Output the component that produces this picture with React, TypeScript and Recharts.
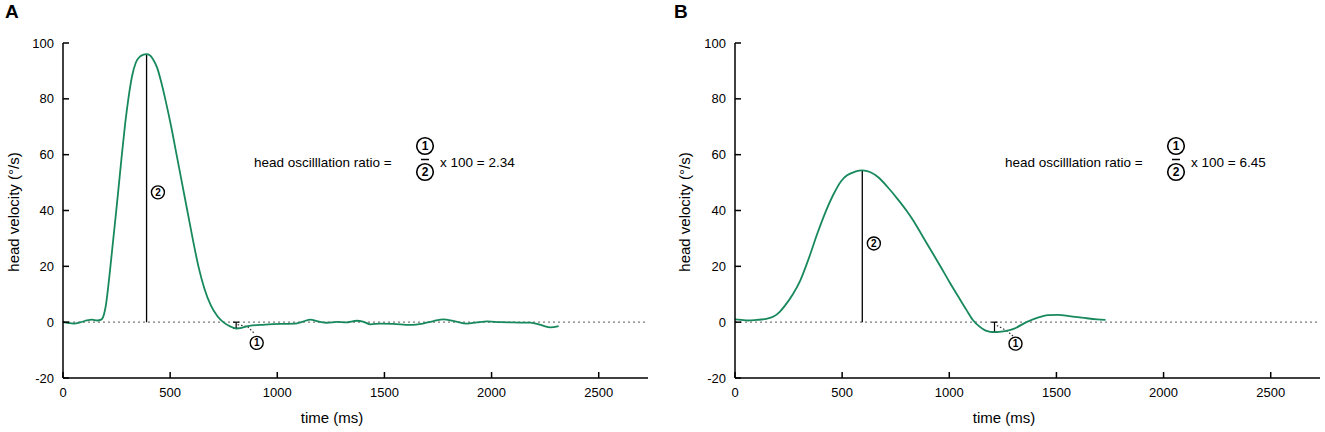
import { LineChart, Line, XAxis, YAxis, ReferenceLine, ReferenceDot } from 'recharts'

const FONT = '"Liberation Sans", Arial, Helvetica, sans-serif'
const GREEN = '#17895c'

// panel A: time (ms) and head velocity (°/s)
const timeA = [
  0, 25, 50, 80, 110, 135, 160, 180, 192, 200, 210, 220, 235, 250, 263, 276, 290, 305, 322, 340,
  360, 375, 390, 405, 420, 440, 455, 477, 505, 530, 555, 580, 605, 632, 660, 690, 720, 748, 780,
  810, 840, 870, 920, 980, 1040, 1080, 1120, 1154, 1190, 1232, 1280, 1320, 1372, 1400, 1435, 1480,
  1540, 1621, 1680, 1730, 1776, 1820, 1886, 1930, 1980, 2040, 2100, 2182, 2230, 2275, 2313,
]
const velocityA = [
  0, -0.3, -0.5, -0.1, 0.6, 0.9, 0.6, 1.0, 3, 6, 12, 19, 30, 41, 51, 61, 71, 80, 88, 93,
  95.2, 95.8, 96, 95.6, 94.2, 91, 87, 80, 70, 60, 50, 40, 30, 20, 12, 6, 2.2, 0, -1.5,
  -2.3, -1.9, -1.3, -1.0, -0.7, -0.6, -0.5, 0.2, 0.9, 0.3, -0.2, 0.1, -0.1, 0.5, 0.2, -0.8, -0.5,
  -0.6, -1.0, -0.5, 0.4, 1.0, 0.5, -0.5, -0.1, 0.3, 0, -0.1, -0.2, -1.0, -1.9, -1.4,
]

// panel B
const timeB = [
  0, 30, 60, 100, 148, 180, 210, 234, 270, 305, 345, 383, 420, 461, 495, 523, 560, 594, 630, 670,
  711, 760, 800, 831, 870, 910, 955, 1000, 1048, 1080, 1110, 1140, 1170, 1211, 1260, 1300, 1360,
  1420, 1460, 1507, 1560, 1631, 1690, 1729,
]
const velocityB = [
  1.0, 0.8, 0.6, 0.8, 1.2, 2, 3.8, 6, 10, 15, 23, 31.5, 39, 46, 50.5, 52.6, 53.9, 54.4, 53.8, 51.8,
  48.5, 44, 40, 36.5, 31.5, 26.3, 20.5, 14.5, 8.4, 4.4, 0.8, -1.5, -3.0, -3.6, -3.2, -2.4, 0,
  1.8, 2.5, 2.6, 2.2, 1.5, 1.0, 0.8,
]

const xTicks = [0, 500, 1000, 1500, 2000, 2500]
const yTicks = [-20, 0, 20, 40, 60, 80, 100]

// annotation anchors (peak, first dip, number markers)
const peakA = { t: 390, v: 96 }
const dipA = { t: 808, v: -2.2 }
const markA2 = { t: 443, v: 46.5 }
const markA1 = { t: 904, v: -7.4 }
const leaderA = [{ t: 815, v: -0.9 }, { t: 862, v: -1.6 }, { t: 895, v: -4.2 }]

const peakB = { t: 594, v: 54.4 }
const dipB = { t: 1211, v: -3.6 }
const markB2 = { t: 648, v: 28.2 }
const markB1 = { t: 1309, v: -7.7 }
const leaderB = [{ t: 1222, v: -1.2 }, { t: 1267, v: -3.0 }, { t: 1298, v: -5.0 }]

const toRows = (ts: number[], vs: number[]) => ts.map((t, i) => ({ t, v: vs[i] }))

interface Mark { t: number; v: number }

interface PanelProps {
  data: { t: number; v: number }[]
  width: number
  yAxisWidth: number
  right: number
  peak: Mark
  dip: Mark
  mark2: Mark
  mark1: Mark
  leader: Mark[]
}

function Panel({ data, width, yAxisWidth, right, peak, dip, mark2, mark1, leader }: PanelProps) {
  const tickStyle = { fill: '#000', fontSize: 13, fontFamily: FONT }
  const line = { stroke: '#000', strokeWidth: 1.5 }
  const cap = 14
  return (
    <LineChart width={width} height={432} data={data} margin={{ top: 43, right, bottom: 24, left: 0 }}>
      <XAxis
        dataKey="t"
        type="number"
        domain={[0, 2730]}
        ticks={xTicks}
        interval={0}
        height={30}
        tick={tickStyle}
        tickSize={-6}
        tickMargin={16}
        axisLine={line}
        tickLine={line}
      />
      <YAxis
        type="number"
        domain={[-20, 100]}
        ticks={yTicks}
        interval={0}
        width={yAxisWidth}
        tick={tickStyle}
        tickSize={-6}
        tickMargin={15}
        axisLine={line}
        tickLine={line}
      />
      <ReferenceLine y={0} stroke="#7a7a7a" strokeWidth={1.3} strokeDasharray="2 3" />
      <ReferenceLine segment={[{ x: peak.t, y: 0 }, { x: peak.t, y: peak.v }]} stroke="#000" strokeWidth={1.3} />
      <ReferenceLine segment={[{ x: dip.t, y: 0 }, { x: dip.t, y: dip.v }]} stroke="#000" strokeWidth={1.2} />
      <ReferenceLine segment={[{ x: dip.t - cap, y: 0 }, { x: dip.t + cap, y: 0 }]} stroke="#000" strokeWidth={1.2} />
      <ReferenceLine segment={[{ x: dip.t - cap, y: dip.v }, { x: dip.t + cap, y: dip.v }]} stroke="#000" strokeWidth={1.2} />
      <ReferenceLine segment={[{ x: leader[0].t, y: leader[0].v }, { x: leader[1].t, y: leader[1].v }]} stroke="#333" strokeWidth={1.2} strokeDasharray="1.5 2" />
      <ReferenceLine segment={[{ x: leader[1].t, y: leader[1].v }, { x: leader[2].t, y: leader[2].v }]} stroke="#333" strokeWidth={1.2} strokeDasharray="1.5 2" />
      <Line type="monotone" dataKey="v" stroke={GREEN} strokeWidth={1.8} dot={false} isAnimationActive={false} />
      <ReferenceDot
        x={mark2.t}
        y={mark2.v}
        r={6.5}
        fill="#fff"
        stroke="#000"
        strokeWidth={1.4}
        label={{ value: '2', position: 'center', fontSize: 10, fontWeight: 'bold', fill: '#000', fontFamily: FONT }}
      />
      <ReferenceDot
        x={mark1.t}
        y={mark1.v}
        r={6.5}
        fill="#fff"
        stroke="#000"
        strokeWidth={1.4}
        label={{ value: '1', position: 'center', fontSize: 10, fontWeight: 'bold', fill: '#000', fontFamily: FONT }}
      />
    </LineChart>
  )
}

function Formula({ x, y, value }: { x: number; y: number; value: string }) {
  const cx = x + 171
  return (
    <g fontFamily={FONT} fill="#000">
      <text x={x} y={y} fontSize={13.5}>head oscilllation ratio =</text>
      <circle cx={cx} cy={y - 21} r={8.3} fill="#fff" stroke="#000" strokeWidth={1.6} />
      <text x={cx} y={y - 21} dy="0.36em" fontSize={12} fontWeight="bold" textAnchor="middle">1</text>
      <line x1={cx - 4} x2={cx + 4} y1={y - 7.5} y2={y - 7.5} stroke="#000" strokeWidth={1.5} />
      <circle cx={cx} cy={y + 5} r={8.3} fill="#fff" stroke="#000" strokeWidth={1.6} />
      <text x={cx} y={y + 5} dy="0.36em" fontSize={12} fontWeight="bold" textAnchor="middle">2</text>
      <text x={x + 186} y={y} fontSize={13.5}>{`x 100 = ${value}`}</text>
    </g>
  )
}

export default function App() {
  const dataA = toRows(timeA, velocityA)
  const dataB = toRows(timeB, velocityB)
  return (
    <div style={{ position: 'absolute', left: 0, top: 0, width: 1325, height: 432, background: '#fff', overflow: 'hidden' }}>
      <div style={{ position: 'absolute', left: 0, top: 0 }}>
        <Panel data={dataA} width={662} yAxisWidth={63} right={14} peak={peakA} dip={dipA} mark2={markA2} mark1={markA1} leader={leaderA} />
      </div>
      <div style={{ position: 'absolute', left: 662, top: 0 }}>
        <Panel data={dataB} width={663} yAxisWidth={73} right={5} peak={peakB} dip={dipB} mark2={markB2} mark1={markB1} leader={leaderB} />
      </div>
      <svg width={1325} height={432} style={{ position: 'absolute', left: 0, top: 0, pointerEvents: 'none' }}>
        <g fontFamily={FONT} fill="#000">
          <text x={5} y={18} fontSize={19} fontWeight="bold">A</text>
          <text x={674} y={18} fontSize={19} fontWeight="bold">B</text>
          <text x={332} y={423} fontSize={15} textAnchor="middle">time (ms)</text>
          <text x={1004} y={423} fontSize={15} textAnchor="middle">time (ms)</text>
          <text transform="translate(19,212) rotate(-90)" fontSize={15} textAnchor="middle">head velocity (°/s)</text>
          <text transform="translate(690,212) rotate(-90)" fontSize={15} textAnchor="middle">head velocity (°/s)</text>
        </g>
        <Formula x={254} y={167} value="2.34" />
        <Formula x={1005} y={167} value="6.45" />
      </svg>
    </div>
  )
}
